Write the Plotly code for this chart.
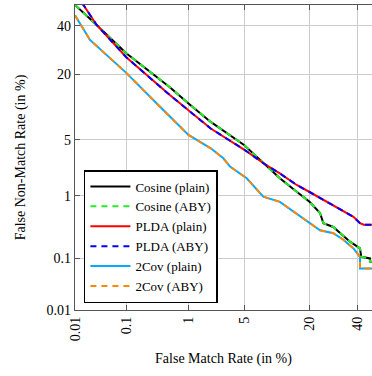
from statistics import NormalDist
import plotly.graph_objects as go

# ---- data (percentages) ----
tick_vals_pct = [0.01, 0.1, 1, 5, 20, 40]
tick_text = ["0.01", "0.1", "1", "5", "20", "40"]

cosine_fmr = [0.01, 0.0277, 0.1, 0.53, 1.0, 2.0, 5.0, 7.9, 11.4, 15.9, 20.0, 23.8,
              25.1, 29.1, 32.0, 36.5, 41.2, 41.8, 46.0, 46.0, 48.0]
cosine_fnmr = [50, 40.4, 27.8, 15.8, 11.5, 7.7, 4.4, 2.7, 1.73, 1.14, 0.82, 0.56,
               0.39, 0.34, 0.27, 0.195, 0.15, 0.107, 0.10, 0.087, 0.087]

plda_fmr = [0.01, 0.015, 0.0277, 0.1, 0.53, 1.0, 2.0, 5.0, 7.9, 11.4, 15.9, 20.0,
            25.1, 29.1, 33.5, 38.1, 41.2, 43.0, 48.0]
plda_fnmr = [55, 50, 40.4, 26.2, 13.6, 10.0, 6.6, 3.9, 2.7, 2.0, 1.41, 1.13,
             0.87, 0.74, 0.59, 0.49, 0.39, 0.37, 0.37]

cov_fmr = [0.01, 0.0204, 0.1, 0.287, 0.37, 1.0, 2.0, 2.88, 3.46, 5.35, 7.94, 11.4,
           15.9, 20.0, 23.8, 29.1, 33.5, 38.1, 41.2, 41.2, 48.0]
cov_fnmr = [45, 33.5, 20.4, 12.3, 10.8, 5.65, 4.03, 3.08, 2.44, 1.73, 0.97, 0.82,
            0.55, 0.39, 0.30, 0.27, 0.21, 0.15, 0.107, 0.066, 0.066]

series = [
    ("Cosine (plain)", cosine_fmr, cosine_fnmr, "#000000", "solid"),
    ("Cosine (ABY)", cosine_fmr, cosine_fnmr, "#22ee22", "6px,5px"),
    ("PLDA (plain)", plda_fmr, plda_fnmr, "#ff0000", "solid"),
    ("PLDA (ABY)", plda_fmr, plda_fnmr, "#0000ff", "6px,5px"),
    ("2Cov (plain)", cov_fmr, cov_fnmr, "#00aaff", "solid"),
    ("2Cov (ABY)", cov_fmr, cov_fnmr, "#ff8800", "6px,5px"),
]

nd = NormalDist()
def probit(pcts):
    return [nd.inv_cdf(p / 100.0) for p in pcts]

fig = go.Figure()
for name, xs, ys, color, dash in series:
    fig.add_trace(go.Scatter(
        x=probit(xs), y=probit(ys), mode="lines", name=name,
        line=dict(color=color, width=2, dash=dash),
    ))

FONT = "Liberation Serif, Times New Roman, serif"
tv = probit(tick_vals_pct)
zmin = nd.inv_cdf(0.0001)

axis_common = dict(
    tickvals=tv, ticktext=tick_text,
    showgrid=True, gridcolor="#cccccc", gridwidth=1,
    zeroline=False, showline=True, linecolor="#555555", linewidth=1.2,
    ticks="inside", ticklen=5, tickcolor="#555555",
    tickfont=dict(family=FONT, size=14, color="black"),
)

fig.update_layout(
    width=372, height=376,
    margin=dict(l=75, r=0, t=5, b=66),
    paper_bgcolor="white", plot_bgcolor="white",
    font=dict(family=FONT, size=14, color="black"),
    xaxis=dict(**axis_common, range=[zmin, -0.075], mirror="ticks", tickangle=-90,
               title=dict(text="False Match Rate (in %)", font=dict(family=FONT, size=14), standoff=12)),
    yaxis=dict(**axis_common, range=[zmin, 0], mirror=False,
               title=dict(text="False Non-Match Rate (in %)", font=dict(family=FONT, size=14), standoff=17)),
    legend=dict(x=0.03, y=0.459, xanchor="left", yanchor="top",
                bgcolor="white", bordercolor="black", borderwidth=1.5,
                font=dict(family=FONT, size=13, color="black"),
                itemwidth=40, tracegroupgap=0),
    showlegend=True,
)
fig.update_xaxes(automargin=False)
fig.update_yaxes(automargin=False)

fig.write_html("out.html", config={"displayModeBar": False},
               post_script="document.body.style.margin='0';")
